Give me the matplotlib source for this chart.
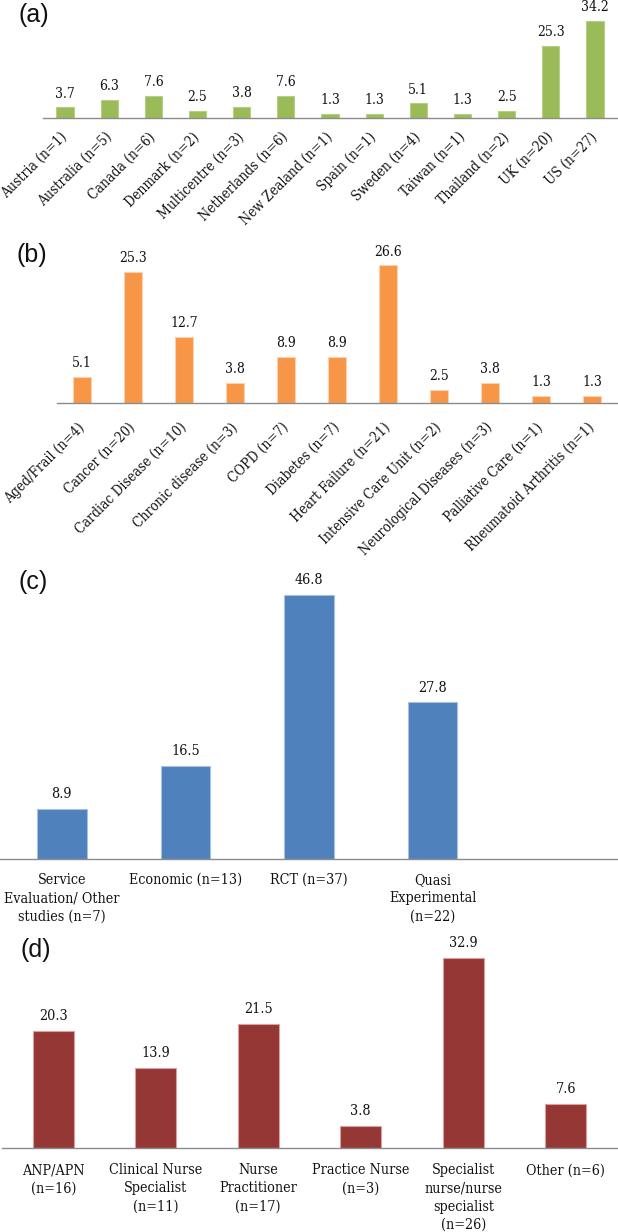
import matplotlib
matplotlib.use("Agg")
import matplotlib.pyplot as plt
import matplotlib.transforms as mtransforms
import numpy as np

# ---------------- data ----------------
countries = ["Austria (n=1)", "Australia (n=5)", "Canada (n=6)", "Denmark (n=2)",
             "Multicentre (n=3)", "Netherlands (n=6)", "New Zealand (n=1)",
             "Spain (n=1)", "Sweden (n=4)", "Taiwan (n=1)", "Thailand (n=2)",
             "UK (n=20)", "US (n=27)"]
country_pct = [3.7, 6.3, 7.6, 2.5, 3.8, 7.6, 1.3, 1.3, 5.1, 1.3, 2.5, 25.3, 34.2]

conditions = ["Aged/Frail (n=4)", "Cancer (n=20)", "Cardiac Disease (n=10)",
              "Chronic disease (n=3)", "COPD (n=7)", "Diabetes (n=7)",
              "Heart Failure (n=21)", "Intensive Care Unit (n=2)",
              "Neurological Diseases (n=3)", "Palliative Care (n=1)",
              "Rheumatoid Arthritis (n=1)"]
condition_pct = [5.1, 25.3, 12.7, 3.8, 8.9, 8.9, 26.6, 2.5, 3.8, 1.3, 1.3]

designs = ["Service\nEvaluation/ Other\nstudies (n=7)", "Economic (n=13)",
           "RCT (n=37)", "Quasi\nExperimental\n(n=22)"]
design_pct = [8.9, 16.5, 46.8, 27.8]

roles = ["ANP/APN\n(n=16)", "Clinical Nurse\nSpecialist\n(n=11)",
         "Nurse\nPractitioner\n(n=17)", "Practice Nurse\n(n=3)",
         "Specialist\nnurse/nurse\nspecialist\n(n=26)", "Other (n=6)"]
role_pct = [20.3, 13.9, 21.5, 3.8, 32.9, 7.6]

# ---------------- figure ----------------
W, H = 618, 1232
fig = plt.figure(figsize=(W / 100, H / 100), dpi=100)
SERIF = "DejaVu Serif"
STRETCH = "condensed"
AXIS_GRAY = "#8c8c8c"
TXT = "#111111"


def make_ax(left, right, top, base):
    return fig.add_axes([left / W, 1 - base / H, (right - left) / W, (base - top) / H])


def style(ax, ncat, ymax):
    ax.set_xlim(-0.5, ncat - 0.5)
    ax.set_ylim(0, ymax)
    for s in ["top", "right", "left"]:
        ax.spines[s].set_visible(False)
    ax.spines["bottom"].set_color(AXIS_GRAY)
    ax.spines["bottom"].set_linewidth(1.0)
    ax.set_yticks([])
    ax.tick_params(axis="x", length=0)
    ax.patch.set_alpha(0)


def draw(ax, cats, vals, color, width, edge, fsize, pad_lab, rotated, pad_tick, dx=0):
    x = np.arange(len(cats))
    bars = ax.bar(x, vals, width=width, color=color, edgecolor=edge, linewidth=0.8)
    ax.bar_label(bars, labels=[f"{v:.1f}" for v in vals], padding=pad_lab,
                 fontsize=fsize, family=SERIF, fontstretch=STRETCH, color=TXT)
    ax.set_xticks(x)
    if rotated:
        labs = ax.set_xticklabels(cats, rotation=45, ha="right", va="center",
                                  rotation_mode="anchor", fontsize=fsize, family=SERIF,
                                  fontstretch=STRETCH, color=TXT)
        off = mtransforms.ScaledTranslation(dx / 100, 0, fig.dpi_scale_trans)
        for t in labs:
            t.set_transform(t.get_transform() + off)
    else:
        ax.set_xticklabels(cats, fontsize=fsize, family=SERIF, fontstretch=STRETCH,
                           color=TXT, linespacing=1.38, va="top", ha="center")
    ax.tick_params(axis="x", pad=pad_tick)
    return bars


# (a) countries
axa = make_ax(43, 617, 0, 118)
style(axa, len(countries), 41.5)
draw(axa, countries, country_pct, "#9BBB59", 0.39, "#b5cf86", 10, 5, True, 12, dx=4)

# (b) conditions
axb = make_ax(56.5, 617.5, 228, 403)
style(axb, len(conditions), 33.85)
draw(axb, conditions, condition_pct, "#F79646", 0.37, "#fbd2b0", 10, 5, True, 16, dx=5)

# (c) study design (5 slots, last empty)
axc = make_ax(0, 618, 560, 859)
style(axc, 5, 53.0)
draw(axc, designs, design_pct, "#4F81BD", 0.40, "#a9c1e0", 10.3, 5.5, False, 10)

# (d) nurse role
axd = make_ax(2, 617, 935, 1148)
style(axd, len(roles), 36.8)
draw(axd, roles, role_pct, "#953735", 0.40, "#d9a0a0", 10.3, 5.5, False, 11)

# panel letters
for lab, xp, yp in [("(a)", 19, 15), ("(b)", 17, 255), ("(c)", 18, 582), ("(d)", 20, 950)]:
    fig.text(xp / W, 1 - yp / H, lab, fontsize=18, family="Liberation Sans",
             ha="left", va="center", color=TXT)

fig.savefig("out.png", dpi=100, facecolor="white")
